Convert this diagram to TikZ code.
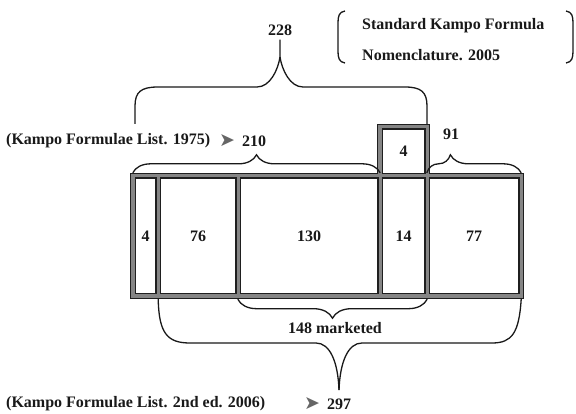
\documentclass[tikz,border=0pt]{standalone}
\usepackage{fontspec}
\setmainfont{Liberation Serif}
\newfontfamily\symfont{DejaVu Sans}
\usetikzlibrary{decorations.pathreplacing}
\begin{document}
\begin{tikzpicture}[
x=1pt,y=-1pt,
cell/.style={minimum height=120pt,inner sep=0pt,font=\bfseries\fontsize{16}{18}\selectfont,text=black!90},
lbl/.style={inner sep=0pt,font=\bfseries\fontsize{16}{18}\selectfont,text=black!90},
arr/.style={inner sep=0pt,font=\symfont\fontsize{19}{19}\selectfont,text=black!60},
brc/.style={draw=black!90,line width=1.3pt},
curly/.style={brc,decorate,decoration={brace,amplitude=#1}}
]
\useasboundingbox (0,0) rectangle (576,414);
% cells of the bar
\node[cell,minimum width=25pt] (c1) at (145.5,236) {4};
\node[cell,minimum width=80pt] (c2) at (198,236) {76};
\node[cell,minimum width=142pt] (c3) at (309,236) {130};
\node[cell,minimum width=47pt] (c4) at (403.5,236) {14};
\node[cell,minimum width=94pt] (c5) at (474,236) {77};
\node[cell,minimum width=47pt,minimum height=49pt] (t) at (403.5,151.5) {4};
% walls: dark edge first, grey core on top
\foreach \w/\g in {6pt/black!88,3.4pt/black!48}{
  \draw[line width=\w,draw=\g,line join=miter] (c1.north west) rectangle (c5.south east);
  \draw[line width=\w,draw=\g] (c1.north east) -- (c1.south east) (c2.north east) -- (c2.south east)
    (c3.north east) -- (c3.south east) (c4.north east) -- (c4.south east);
  \draw[line width=\w,draw=\g,line join=miter] (t.south west) -- (t.north west) -- (t.north east) -- (t.south east);
}
% labels
\node[lbl] (n228) at (280,30) {228};
\node[lbl,anchor=west] (std1) at (362,26) {Standard Kampo Formula};
\node[lbl,anchor=west] (std2) at (362,55) {Nomenclature. 2005};
\node[lbl,anchor=west] (lst75) at (6,141) {(Kampo Formulae List. 1975)};
\node[arr] (arr75) at (227,141) {➤};
\node[lbl] (n210) at (254,141) {210};
\node[lbl] (n91) at (451,134) {91};
\node[lbl] (mkt) at (335,328) {148 marketed};
\node[lbl,anchor=west] (lst06) at (6,404) {(Kampo Formulae List. 2nd ed. 2006)};
\node[arr] (arr06) at (312,404) {➤};
\node[lbl] (n297) at (339,404) {297};
% brackets round the nomenclature
\draw[brc] (345,11) .. controls (339,12) and (338,16) .. (338,23) -- (338,51) .. controls (338,58) and (339,62) .. (345,63);
\draw[brc] (566,11) .. controls (572,12) and (573,16) .. (573,23) -- (573,51) .. controls (573,58) and (572,62) .. (566,63);
% braces
\draw[curly=18pt] ([yshift=3pt]c1.north west) -- ([yshift=3pt]c3.north east);
\draw[curly=18pt,decoration={aspect=0.25}] ([yshift=3pt]c5.north west) -- ([yshift=3pt]c5.north east);
\draw[curly=19pt] ([yshift=-3pt]c4.south east) -- ([yshift=-3pt]c3.south west);
\draw[brc] (135,124) -- (135,106) .. controls (135,92) and (141,87) .. (158,87) -- (257,87) .. controls (270,87) and (278,70) .. (280,57) -- ([yshift=-4pt]n228.south);
\draw[brc] (280,57) .. controls (282,70) and (290,87) .. (303,87) -- (405,87) .. controls (421,87) and (427,92) .. (427,106) -- (427,124);
\draw[brc] ([yshift=-3pt]c1.south east) .. controls (159,333) and (167,343) .. (190,343) -- (316,343) .. controls (330,343) and (338,362) .. (339,390);
\draw[brc] (339,390) .. controls (340,362) and (348,343) .. (362,343) -- (492,343) .. controls (512,343) and (519,333) .. ([yshift=-3pt]c5.south east);
\end{tikzpicture}
\end{document}
